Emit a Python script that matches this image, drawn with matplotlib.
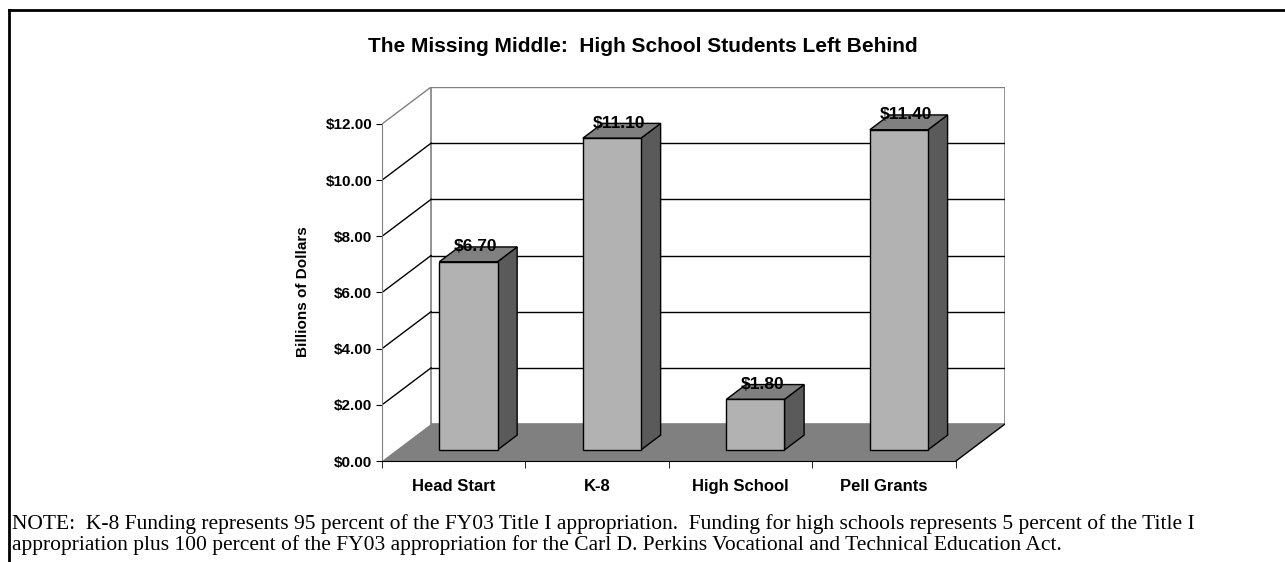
import matplotlib
matplotlib.use("Agg")
import matplotlib.pyplot as plt
from matplotlib.patches import Polygon, Rectangle
from matplotlib.lines import Line2D
import numpy as np

# chart data
categories = ["Head Start", "K-8", "High School", "Pell Grants"]
values = [6.70, 11.10, 1.80, 11.40]
y_ticks = [0, 2, 4, 6, 8, 10, 12]
y_tick_labels = ["$0.00", "$2.00", "$4.00", "$6.00", "$8.00", "$10.00", "$12.00"]
title = "The Missing Middle:  High School Students Left Behind"
y_label = "Billions of Dollars"
note = ("NOTE:  K-8 Funding represents 95 percent of the FY03 Title I appropriation.  "
        "Funding for high schools represents 5 percent of the Title I\n"
        "appropriation plus 100 percent of the FY03 appropriation for the Carl D. "
        "Perkins Vocational and Technical Education Act.")

plt.rcParams["font.family"] = ["Liberation Sans", "DejaVu Sans"]

W, H = 1285, 562
fig = plt.figure(figsize=(W / 100, H / 100), dpi=100)

# plot area in pixels (front axis x, back wall right, floor front, wall top)
px_left, px_right, px_bottom, px_top = 382, 1005, 461, 87
ax = fig.add_axes([px_left / W, 1 - px_bottom / H,
                   (px_right - px_left) / W, (px_bottom - px_top) / H])

# depth offset of the 3D box, in data units
ymax = 12
ddy = 37 / 28.1            # value units
ddx = 49 / 143.3           # category units
x0, x1 = -0.5, len(categories) - 0.5
ax.set_xlim(x0, x1 + ddx)
ax.set_ylim(0, ymax + ddy)

# walls and floor
ax.add_patch(Rectangle((x0 + ddx, ddy), x1 - x0, ymax, facecolor="white",
                       edgecolor="#808080", lw=1.2, zorder=1))
ax.add_patch(Polygon([(x0, 0), (x1, 0), (x1 + ddx, ddy), (x0 + ddx, ddy)],
                     closed=True, facecolor="#808080", edgecolor="none", zorder=2))
ax.plot([x1, x1 + ddx], [0, ddy], color="black", lw=1, zorder=2)
for v in y_ticks[1:]:
    c = "#808080" if v == ymax else "black"
    ax.plot([x0 + ddx, x1 + ddx], [v + ddy, v + ddy], color=c, lw=1, zorder=1.5)
    ax.plot([x0, x0 + ddx], [v, v + ddy], color=c, lw=1, zorder=1.5)

# bars: front face plus side and top faces
bar_w = 0.405
zf, zb = 0.3, 0.7
dz = zb - zf
xs = np.arange(len(categories)) + zf * ddx
ax.bar(xs, values, width=bar_w, bottom=zf * ddy, color="#B2B2B2",
       edgecolor="black", lw=1, zorder=4)
for x, v in zip(xs, values):
    xl, xr = x - bar_w / 2, x + bar_w / 2
    b, t = zf * ddy, v + zf * ddy
    sx, sy = dz * ddx, dz * ddy
    ax.add_patch(Polygon([(xr, b), (xr + sx, b + sy), (xr + sx, t + sy), (xr, t)],
                         closed=True, facecolor="#5A5A5A", edgecolor="black",
                         lw=1, zorder=3))
    ax.add_patch(Polygon([(xl, t), (xr, t), (xr + sx, t + sy), (xl + sx, t + sy)],
                         closed=True, facecolor="#808080", edgecolor="black",
                         lw=1, zorder=3))
    ax.text(x + 0.05, t + sy, f"${v:.2f}", ha="center", va="center",
            fontsize=12.5, fontweight="bold", zorder=5)

# axes
for s in ["top", "right"]:
    ax.spines[s].set_visible(False)
ax.spines["left"].set_bounds(0, ymax)
ax.spines["left"].set_color("#808080")
ax.spines["bottom"].set_bounds(x0, x1)
ax.spines["bottom"].set_color("black")
ax.spines["left"].set_zorder(6)
ax.spines["bottom"].set_zorder(6)
ax.patch.set_visible(False)

ax.set_yticks(y_ticks)
ax.set_yticklabels(y_tick_labels, fontsize=11, fontweight="bold")
ax.tick_params(axis="y", length=4, color="black", pad=3)
ax.set_xticks(np.arange(len(categories)))
ax.set_xticklabels(categories, fontsize=12, fontweight="bold")
ax.set_xticks(np.arange(len(categories) + 1) - 0.5, minor=True)
ax.tick_params(axis="x", which="major", length=0, pad=13)
ax.tick_params(axis="x", which="minor", length=5, color="black")
ax.set_ylabel(y_label, fontsize=11, fontweight="bold")
ax.yaxis.set_label_coords((310 - px_left) / (px_right - px_left),
                          (px_bottom - 292) / (px_bottom - px_top))

fig.text(643 / W, 1 - 46 / H, title, ha="center", va="center",
         fontsize=15, fontweight="bold")
fig.text(12 / W, 1 - 514 / H, note, ha="left", va="top", fontsize=15.5,
         family="Liberation Serif", linespacing=1.08)

# outer frame (cut off at right and bottom)
fig.add_artist(Line2D([9 / W, 9 / W], [-0.1, 1 - 10 / H], color="black", lw=2))
fig.add_artist(Line2D([9 / W, 1.1], [1 - 10 / H, 1 - 10 / H], color="black", lw=2))

fig.savefig("out.png", dpi=100)
